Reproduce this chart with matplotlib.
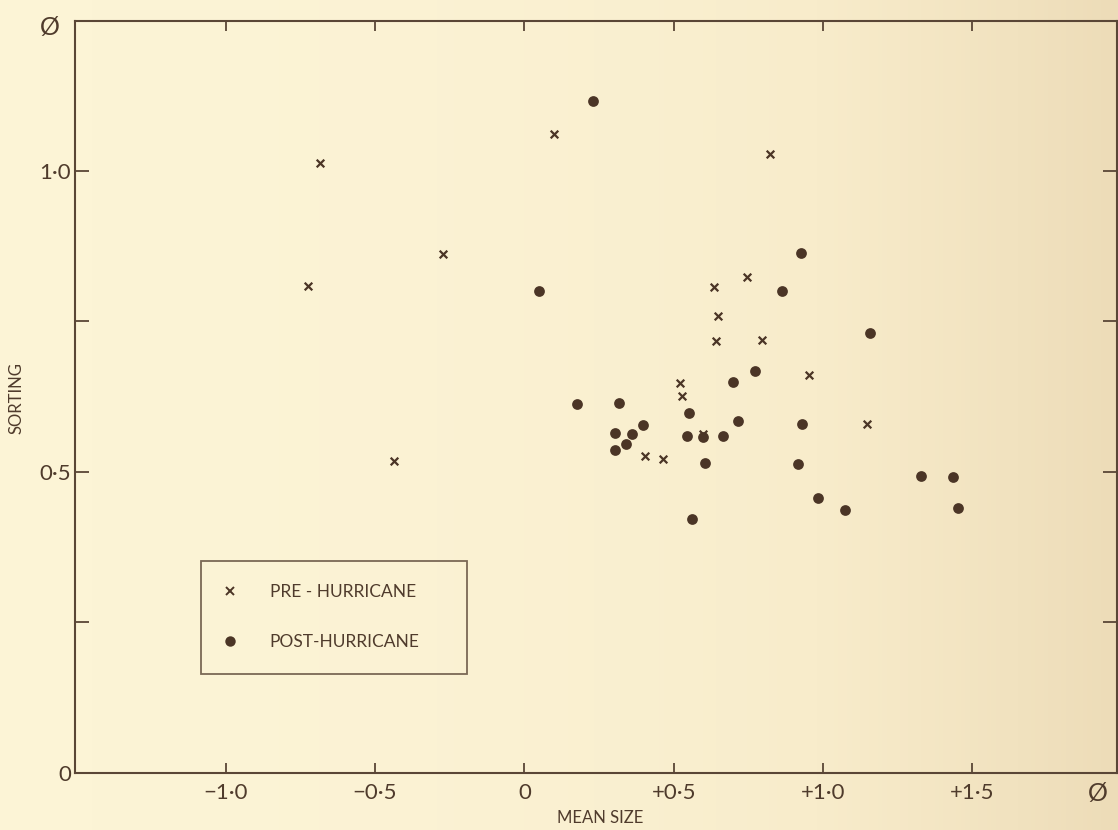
import matplotlib
matplotlib.use("Agg")
import matplotlib.pyplot as plt
import numpy as np
from matplotlib.lines import Line2D
from matplotlib.colors import LinearSegmentedColormap

# ---- data ----
pre_x = [-0.683, -0.726, -0.438, -0.274, 0.100, 0.823, 0.636, 0.649, 0.746,
         0.643, 0.797, 0.954, 0.522, 0.529, 1.148, 0.599, 0.405, 0.465]
pre_y = [1.013, 0.809, 0.518, 0.862, 1.061, 1.028, 0.807, 0.759, 0.824,
         0.718, 0.719, 0.661, 0.648, 0.626, 0.580, 0.563, 0.527, 0.522]

post_x = [0.231, 0.050, 0.927, 0.863, 1.158, 0.773, 0.699, 0.552, 0.716, 0.930,
          0.546, 0.599, 0.666, 0.606, 0.917, 1.329, 1.436, 0.984, 1.074, 1.452,
          0.562, 0.177, 0.318, 0.398, 0.305, 0.361, 0.341, 0.305]
post_y = [1.116, 0.801, 0.864, 0.801, 0.731, 0.668, 0.650, 0.598, 0.585, 0.580,
          0.560, 0.558, 0.560, 0.515, 0.513, 0.493, 0.492, 0.457, 0.437, 0.440,
          0.422, 0.613, 0.615, 0.578, 0.565, 0.563, 0.547, 0.537]

x_ticks = [-1.0, -0.5, 0.0, 0.5, 1.0, 1.5]
x_tick_labels = ["\u22121\u00b70", "\u22120\u00b75", "0", "+0\u00b75", "+1\u00b70", "+1\u00b75"]
y_ticks = [0.0, 0.25, 0.5, 0.75, 1.0]
y_tick_labels = ["0", "", "0\u00b75", "", "1\u00b70"]

series_labels = ["PRE - HURRICANE", "POST-HURRICANE"]

# ---- style ----
BG = "#FAF0D0"
INK = "#4b3526"
LINE = "#5a4636"
TEXT = "#4f3b2c"
FONT = ["Lato", "DejaVu Sans"]
plt.rcParams["font.family"] = FONT

fig = plt.figure(figsize=(11.18, 8.30), dpi=100, facecolor=BG)

# paper-like background shading (lighter at left/centre, tan towards right)
bg_ax = fig.add_axes([0, 0, 1, 1], zorder=-5)
bg_ax.set_axis_off()
grad = np.linspace(0, 1, 256)[None, :] ** 2.2
paper = LinearSegmentedColormap.from_list("paper", ["#FCF4D6", "#F8ECCB", "#EDDCB8"])
bg_ax.imshow(grad, aspect="auto", cmap=paper, extent=[0, 1, 0, 1])

ax = fig.add_axes([75 / 1118, 1 - 773 / 830, 1042 / 1118, 752 / 830])
ax.patch.set_alpha(0)

ax.scatter(pre_x, pre_y, marker="x", s=30, linewidths=1.6, color=INK, zorder=3)
ax.scatter(post_x, post_y, marker="o", s=60, linewidths=0, color=INK, zorder=3)

ax.set_xlim(-1.505, 1.985)
ax.set_ylim(0, 1.249)

for sp in ax.spines.values():
    sp.set_color(LINE)
    sp.set_linewidth(1.5)

ax.set_xticks(x_ticks)
ax.set_xticklabels(x_tick_labels)
ax.set_yticks(y_ticks)
ax.set_yticklabels(y_tick_labels)
ax.tick_params(axis="x", direction="in", length=7, width=1.3, color=LINE,
               top=True, bottom=True, pad=7, labelsize=16, labelcolor=TEXT)
ax.tick_params(axis="y", direction="in", length=10, width=1.3, color=LINE,
               left=True, right=True, pad=3, labelsize=16, labelcolor=TEXT)

ax.set_xlabel("MEAN SIZE", fontsize=12, color=TEXT)
ax.xaxis.set_label_coords((600 - 75) / 1042, (773 - 818) / 752)
ax.xaxis.label.set_verticalalignment("center")
ax.set_ylabel("SORTING", fontsize=12, color=TEXT)
ax.yaxis.set_label_coords((16 - 75) / 1042, (773 - 398) / 752)
ax.yaxis.label.set_verticalalignment("center")

# unit labels (phi)
fig.text(50 / 1118, 1 - 28 / 830, "\u00d8", fontsize=18, color=TEXT,
         ha="center", va="center")
fig.text(1098 / 1118, 1 - 793 / 830, "\u00d8", fontsize=18, color=TEXT,
         ha="center", va="center")

handles = [
    Line2D([], [], linestyle="none", marker="x", markersize=5.5,
           markeredgewidth=1.4, color=INK),
    Line2D([], [], linestyle="none", marker="o", markersize=7.5,
           markeredgewidth=0, color=INK),
]
leg = ax.legend(handles, series_labels, loc="upper left",
                bbox_to_anchor=((201 - 75) / 1042, (773 - 561) / 752,
                                (467 - 201) / 1042, 0.0),
                mode="expand", borderaxespad=0, frameon=True, fancybox=False,
                fontsize=12.5, labelspacing=1.95, borderpad=1.35,
                handlelength=0.6, handletextpad=2.0, labelcolor=TEXT)
fr = leg.get_frame()
fr.set_edgecolor(LINE)
fr.set_linewidth(1.3)
fr.set_facecolor("none")

fig.savefig("out.png", dpi=100)
